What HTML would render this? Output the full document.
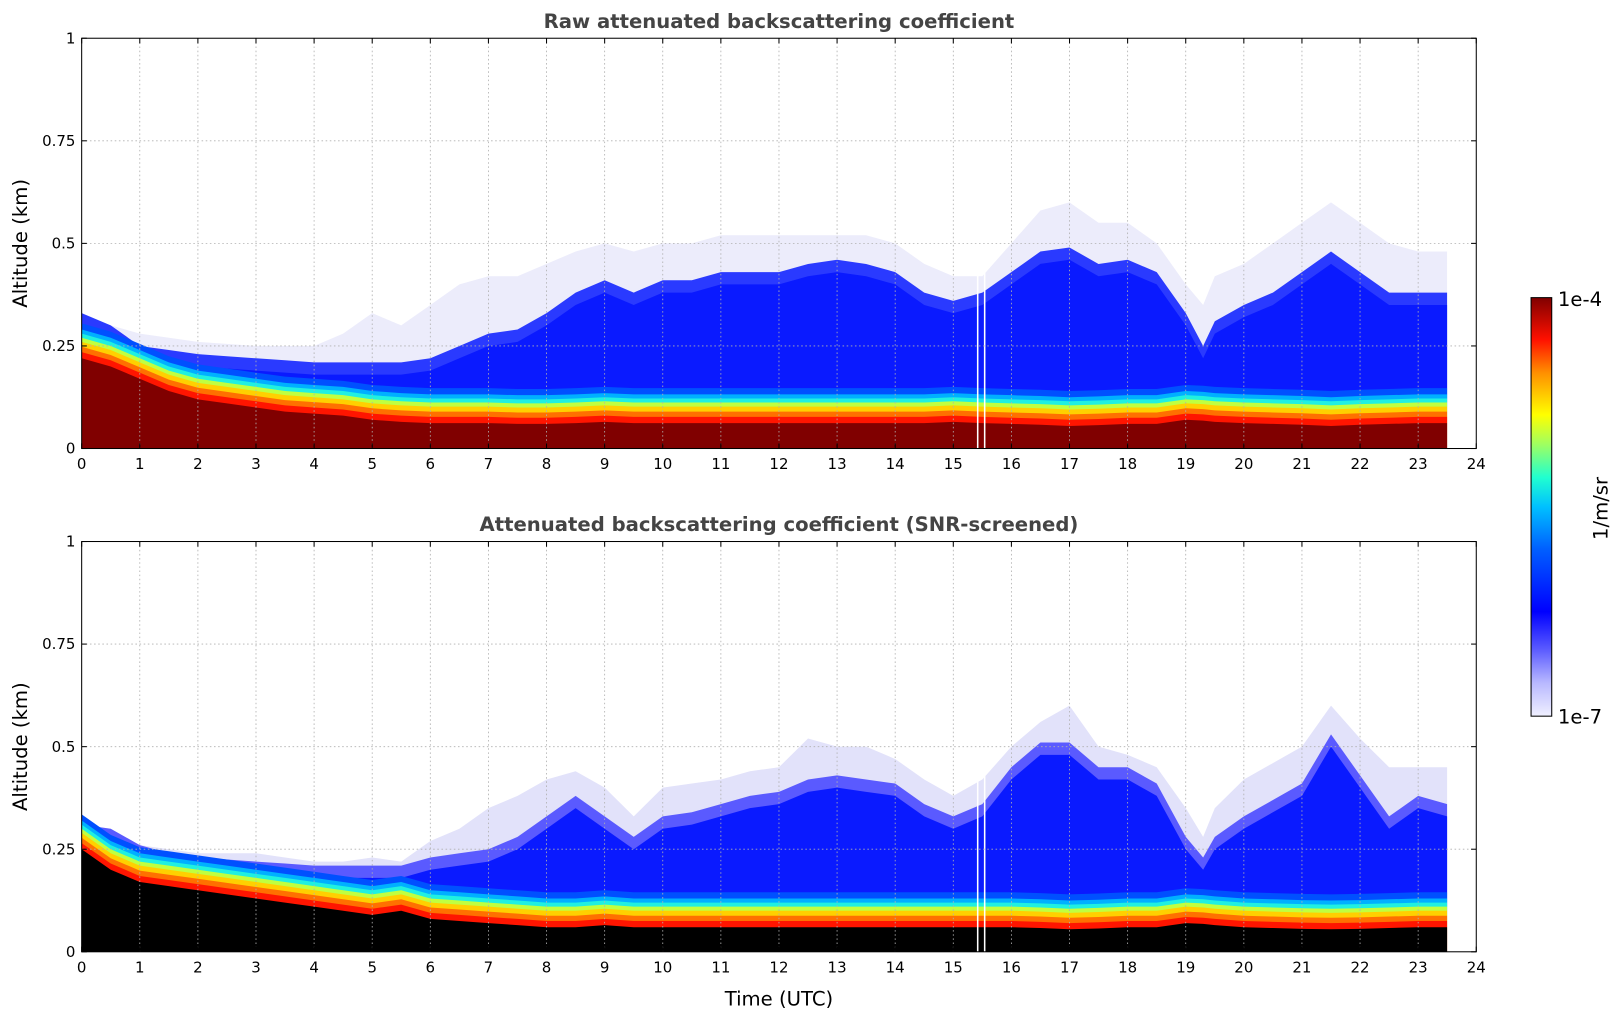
<!DOCTYPE html>
<html><head><meta charset="utf-8">
<style>
body{margin:0;background:#fff;width:1621px;height:1020px;overflow:hidden;font-family:"Liberation Sans",sans-serif;}
svg text{font-family:"DejaVu Sans","Liberation Sans",sans-serif;}
</style></head>
<body>
<svg id="fig" width="1621" height="1020" viewBox="0 0 1568 987" preserveAspectRatio="none" xmlns="http://www.w3.org/2000/svg">
<defs>
<linearGradient id="cbar" x1="0" y1="1" x2="0" y2="0">
<stop offset="0" stop-color="#f0f0ff"/>
<stop offset="0.08" stop-color="#b8b8ff"/>
<stop offset="0.16" stop-color="#5a5aff"/>
<stop offset="0.25" stop-color="#0000ff"/>
<stop offset="0.4" stop-color="#0060ff"/>
<stop offset="0.5" stop-color="#00c0ff"/>
<stop offset="0.57" stop-color="#20ffd0"/>
<stop offset="0.65" stop-color="#a0ff60"/>
<stop offset="0.72" stop-color="#ffff00"/>
<stop offset="0.82" stop-color="#ff9000"/>
<stop offset="0.9" stop-color="#ff1000"/>
<stop offset="1" stop-color="#800000"/>
</linearGradient>
</defs>
</svg>
<script>
const times=[0,0.5,1,1.5,2,2.5,3,3.5,4,4.5,5,5.5,6,6.5,7,7.5,8,8.5,9,9.5,10,10.5,11,11.5,12,12.5,13,13.5,14,14.5,15,15.5,16,16.5,17,17.5,18,18.5,19,19.3,19.5,20,20.5,21,21.5,22,22.5,23,23.5];
const rawRedTop=[0.22,0.2,0.17,0.14,0.12,0.11,0.1,0.09,0.085,0.08,0.07,0.065,0.062,0.062,0.062,0.06,0.06,0.062,0.065,0.062,0.062,0.062,0.062,0.062,0.062,0.062,0.062,0.062,0.062,0.062,0.065,0.062,0.06,0.058,0.055,0.057,0.06,0.06,0.07,0.068,0.065,0.062,0.06,0.058,0.055,0.058,0.06,0.062,0.062];
const rawBlueTop=[0.3,0.27,0.22,0.21,0.2,0.195,0.19,0.185,0.18,0.18,0.18,0.18,0.19,0.22,0.25,0.26,0.3,0.35,0.38,0.35,0.38,0.38,0.4,0.4,0.4,0.42,0.43,0.42,0.4,0.35,0.33,0.35,0.4,0.45,0.46,0.42,0.43,0.4,0.3,0.22,0.28,0.32,0.35,0.4,0.45,0.4,0.35,0.35,0.35];
const rawHaloTop=[0.32,0.3,0.28,0.27,0.26,0.255,0.25,0.25,0.25,0.28,0.33,0.3,0.35,0.4,0.42,0.42,0.45,0.48,0.5,0.48,0.5,0.5,0.52,0.52,0.52,0.52,0.52,0.52,0.5,0.45,0.42,0.42,0.5,0.58,0.6,0.55,0.55,0.5,0.4,0.35,0.42,0.45,0.5,0.55,0.6,0.55,0.5,0.48,0.48];
const scrBlackTop=[0.25,0.2,0.17,0.16,0.15,0.14,0.13,0.12,0.11,0.1,0.09,0.1,0.08,0.075,0.07,0.065,0.06,0.06,0.065,0.06,0.06,0.06,0.06,0.06,0.06,0.06,0.06,0.06,0.06,0.06,0.06,0.06,0.06,0.058,0.055,0.057,0.06,0.06,0.07,0.068,0.065,0.06,0.058,0.056,0.055,0.056,0.058,0.06,0.06];
const scrBlueTop=[0.28,0.27,0.23,0.21,0.2,0.195,0.19,0.185,0.18,0.18,0.18,0.18,0.2,0.21,0.22,0.25,0.3,0.35,0.3,0.25,0.3,0.31,0.33,0.35,0.36,0.39,0.4,0.39,0.38,0.33,0.3,0.33,0.42,0.48,0.48,0.42,0.42,0.38,0.25,0.2,0.25,0.3,0.34,0.38,0.5,0.4,0.3,0.35,0.33];
const scrHaloTop=[0.31,0.3,0.26,0.25,0.24,0.24,0.24,0.23,0.22,0.22,0.23,0.22,0.27,0.3,0.35,0.38,0.42,0.44,0.4,0.33,0.4,0.41,0.42,0.44,0.45,0.52,0.5,0.5,0.47,0.42,0.38,0.42,0.5,0.56,0.6,0.5,0.48,0.45,0.35,0.28,0.35,0.42,0.46,0.5,0.6,0.52,0.45,0.45,0.45];
const xTicks=[0,1,2,3,4,5,6,7,8,9,10,11,12,13,14,15,16,17,18,19,20,21,22,23,24];
const yTicks=[0,0.25,0.5,0.75,1];
const yTickLabels=["0","0.25","0.5","0.75","1"];

const NS="http://www.w3.org/2000/svg";
const svg=document.getElementById('fig');
const X0=79,X1=1428;
function xs(t){return X0+(X1-X0)*t/24;}
function mk(tag,attrs,parent){const e=document.createElementNS(NS,tag);for(const k in attrs)e.setAttribute(k,attrs[k]);(parent||svg).appendChild(e);return e;}
function band(ys,lower,upper,loOff,upOff,color,name,g){
  let d='';
  times.forEach((t,i)=>{d+=(i?'L':'M')+xs(t).toFixed(1)+','+ys(Math.min(1,upper[i]+upOff)).toFixed(1);});
  for(let i=times.length-1;i>=0;i--){const lv=lower?lower[i]+loOff:0;d+='L'+xs(times[i]).toFixed(1)+','+ys(Math.max(0,lv)).toFixed(1);}
  const p=mk('path',{d:d+'Z',fill:color},g);
  
  
}
function panel(top,title,halo,blue,base,baseColor,isBottom,prefix,haloColor,midColor){
  const bot=top+397;
  const ys=v=>bot-(bot-top)*v;
  const g=mk('g',{});
  
  
  band(ys,null,halo,0,0,haloColor,prefix+'-halo-layer',g);
  band(ys,null,blue,0,0.03,midColor,prefix+'-mid-blue-layer',g);
  band(ys,null,blue,0,0,'#0a1aff',prefix+'-blue-layer',g);
  const steps=[[0.085,'#0050ff'],[0.07,'#00b0ff'],[0.06,'#20f0e0'],[0.05,'#c0ff40'],[0.04,'#ffd000'],[0.028,'#ff7000'],[0.015,'#ff1500']];
  steps.forEach((s,k)=>band(ys,null,base,0,s[0],s[1],prefix+'-gradient-band-'+k,g));
  band(ys,null,base,0,0,baseColor,prefix+'-base-layer',g);
  [15.42,15.54].forEach(t=>{const l=mk('line',{x1:xs(t),x2:xs(t),y1:top,y2:bot,stroke:'#fff','stroke-width':1.5},g);});
  const m=mk('rect',{x:xs(23.5),y:top,width:X1-xs(23.5),height:bot-top,fill:'#fff'},g);
  
  xTicks.forEach(t=>{if(t>0&&t<24){const l=mk('line',{x1:xs(t),x2:xs(t),y1:top,y2:bot,stroke:'#b0b0b0','stroke-width':0.8,'stroke-dasharray':'1.5,2.5'},g);}});
  yTicks.forEach(v=>{if(v>0&&v<1){const l=mk('line',{x1:X0,x2:X1,y1:ys(v),y2:ys(v),stroke:'#b0b0b0','stroke-width':0.8,'stroke-dasharray':'1.5,2.5'},g);}});
  const fr=mk('rect',{x:X0,y:top,width:X1-X0,height:bot-top,fill:'none',stroke:'#000','stroke-width':1},g);
  
  xTicks.forEach(t=>{
    mk('line',{x1:xs(t),x2:xs(t),y1:bot,y2:bot-5,stroke:'#000'},g);
    mk('line',{x1:xs(t),x2:xs(t),y1:top,y2:top+5,stroke:'#000'},g);
    const tx=mk('text',{x:xs(t),y:bot+20,'font-size':14.5,'text-anchor':'middle'},g);
    tx.textContent=t;
    
  });
  yTicks.forEach((v,i)=>{
    mk('line',{x1:X0,x2:X0+5,y1:ys(v),y2:ys(v),stroke:'#000'},g);
    mk('line',{x1:X1,x2:X1-5,y1:ys(v),y2:ys(v),stroke:'#000'},g);
    const tx=mk('text',{x:X0-6,y:ys(v)+5,'font-size':14.5,'text-anchor':'end'},g);
    tx.textContent=yTickLabels[i];
    
  });
  const ti=mk('text',{x:(X0+X1)/2,y:top-10,'font-size':19,'font-weight':'bold','text-anchor':'middle',fill:'#444'},g);
  ti.textContent=title;
  const yl=mk('text',{x:26,y:(top+bot)/2,'font-size':19,'text-anchor':'middle',transform:`rotate(-90 26 ${(top+bot)/2})`},g);
  yl.textContent='Altitude (km)';
  if(isBottom){const xl=mk('text',{x:(X0+X1)/2,y:bot+52,'font-size':19,'text-anchor':'middle'},g);xl.textContent='Time (UTC)';}
}
panel(37,'Raw attenuated backscattering coefficient',rawHaloTop,rawBlueTop,rawRedTop,'#800000',false,'raw','#ececfb','#2a3aff');
panel(524,'Attenuated backscattering coefficient (SNR-screened)',scrHaloTop,scrBlueTop,scrBlackTop,'#000000',true,'screened','#e2e2fa','#5a5aff');
const cb=mk('rect',{x:1481,y:288,width:20,height:405,fill:'url(#cbar)',stroke:'#000','stroke-width':1});

const c1=mk('text',{x:1507,y:296,'font-size':19});c1.textContent='1e-4';
const c2=mk('text',{x:1507,y:700,'font-size':19});c2.textContent='1e-7';
const c3=mk('text',{x:1555,y:492,'font-size':19,'text-anchor':'middle',transform:'rotate(-90 1555 492)'});c3.textContent='1/m/sr';
</script>
</body></html>
